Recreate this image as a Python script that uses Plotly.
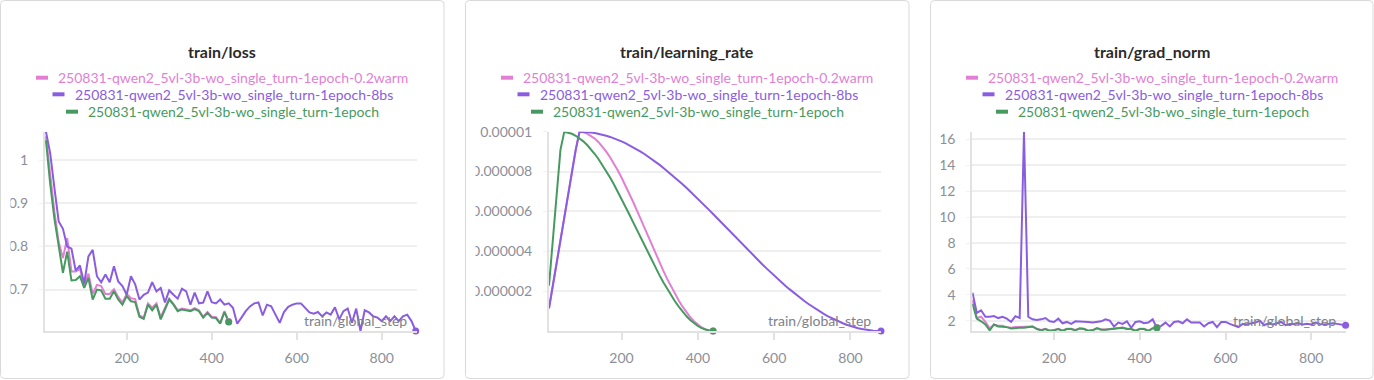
import plotly.graph_objects as go

W, H = 1374, 380

# ---------------- data ----------------
steps_short = list(range(10, 441, 10))   # global_step for 1epoch runs
steps_long = list(range(10, 881, 10))    # global_step for 8bs run

run_names = [
    "250831-qwen2_5vl-3b-wo_single_turn-1epoch-0.2warm",
    "250831-qwen2_5vl-3b-wo_single_turn-1epoch-8bs",
    "250831-qwen2_5vl-3b-wo_single_turn-1epoch",
]
run_colors = ["#E27FD4", "#8A5DE0", "#479A5F"]

panel_titles = ["train/loss", "train/learning_rate", "train/grad_norm"]

loss_warm = [1.055, 0.960, 0.880, 0.810, 0.773, 0.819, 0.742, 0.742, 0.748, 0.712,
             0.737, 0.690, 0.711, 0.708, 0.690, 0.690, 0.701, 0.683, 0.670, 0.690,
             0.680, 0.678, 0.640, 0.635, 0.668, 0.658, 0.668, 0.636, 0.656, 0.679,
             0.667, 0.652, 0.656, 0.654, 0.652, 0.657, 0.652, 0.637, 0.648, 0.637,
             0.636, 0.623, 0.650, 0.626]
loss_8bs = [1.066, 1.016, 0.935, 0.858, 0.841, 0.800, 0.795, 0.744, 0.756, 0.714,
            0.777, 0.792, 0.731, 0.717, 0.735, 0.717, 0.754, 0.719, 0.708, 0.688,
            0.731, 0.712, 0.677, 0.688, 0.693, 0.717, 0.696, 0.704, 0.670, 0.698,
            0.688, 0.679, 0.702, 0.696, 0.665, 0.693, 0.668, 0.670, 0.696, 0.671,
            0.668, 0.677, 0.665, 0.668, 0.658, 0.621, 0.635, 0.650, 0.661, 0.668,
            0.670, 0.640, 0.665, 0.661, 0.642, 0.623, 0.648, 0.660, 0.665, 0.668,
            0.668, 0.658, 0.647, 0.644, 0.648, 0.638, 0.647, 0.642, 0.659, 0.631,
            0.650, 0.656, 0.623, 0.656, 0.604, 0.652, 0.647, 0.638, 0.635, 0.627,
            0.638, 0.627, 0.638, 0.627, 0.638, 0.642, 0.627, 0.604]
loss_1epoch = [1.046, 0.945, 0.864, 0.799, 0.739, 0.788, 0.721, 0.722, 0.731, 0.704,
               0.727, 0.677, 0.700, 0.698, 0.679, 0.679, 0.696, 0.677, 0.665, 0.685,
               0.673, 0.671, 0.637, 0.632, 0.665, 0.652, 0.665, 0.631, 0.652, 0.677,
               0.665, 0.650, 0.654, 0.652, 0.650, 0.655, 0.650, 0.635, 0.646, 0.635,
               0.634, 0.621, 0.648, 0.625]

# learning rate in units of 1e-6
lr_warm = [1.136, 2.273, 3.409, 4.545, 5.682, 6.818, 7.955, 9.091, 9.999, 9.971,
           9.904, 9.797, 9.653, 9.471, 9.253, 9.002, 8.719, 8.407, 8.067, 7.703,
           7.317, 6.913, 6.495, 6.068, 5.623, 5.174, 4.732, 4.289, 3.848, 3.420,
           3.003, 2.604, 2.222, 1.862, 1.528, 1.221, 0.944, 0.700, 0.490, 0.315,
           0.178, 0.079, 0.020, 0.0]
lr_8bs = [1.136, 2.273, 3.409, 4.545, 5.682, 6.818, 7.955, 9.091, 10.0, 9.994,
          9.981, 9.960, 9.931, 9.894, 9.850, 9.797, 9.738, 9.671, 9.596, 9.515,
          9.426, 9.330, 9.228, 9.118, 9.003, 8.881, 8.753, 8.619, 8.479, 8.334,
          8.183, 8.028, 7.868, 7.704, 7.535, 7.363, 7.186, 7.006, 6.823, 6.638,
          6.449, 6.259, 6.066, 5.871, 5.672, 5.478, 5.280, 5.082, 4.883, 4.683,
          4.486, 4.289, 4.092, 3.896, 3.706, 3.515, 3.327, 3.142, 2.958, 2.779,
          2.604, 2.432, 2.263, 2.100, 1.940, 1.786, 1.637, 1.493, 1.354, 1.221,
          1.094, 0.974, 0.859, 0.751, 0.650, 0.556, 0.468, 0.388, 0.315, 0.250,
          0.191, 0.141, 0.098, 0.063, 0.035, 0.016, 0.004, 0.0]
lr_1epoch = [2.273, 4.545, 6.818, 9.091, 9.994, 9.960, 9.894, 9.797, 9.671, 9.515,
             9.330, 9.118, 8.881, 8.619, 8.334, 8.028, 7.704, 7.363, 7.006, 6.638,
             6.259, 5.871, 5.478, 5.082, 4.683, 4.289, 3.896, 3.515, 3.142, 2.779,
             2.432, 2.100, 1.786, 1.493, 1.221, 0.974, 0.751, 0.556, 0.388, 0.250,
             0.141, 0.063, 0.016, 0.0]

gn_warm = [3.6, 2.2, 2.3, 1.9, 1.4, 1.7, 1.6, 1.6, 1.5, 1.45,
           1.5, 1.5, 1.5, 1.52, 1.55, 1.38, 1.28, 1.37, 1.23, 1.28,
           1.37, 1.23, 1.38, 1.37, 1.28, 1.42, 1.38, 1.23, 1.27, 1.42,
           1.33, 1.32, 1.37, 1.38, 1.42, 1.47, 1.37, 1.38, 1.23, 1.37,
           1.38, 1.23, 1.42, 1.47]
gn_8bs = [4.15, 2.6, 2.8, 2.3, 2.3, 2.35, 2.2, 2.3, 2.15, 1.9,
          2.35, 2.2, 16.6, 2.3, 2.1, 2.05, 2.1, 2.2, 1.95, 1.9,
          2.15, 1.8, 1.9, 1.75, 1.95, 1.95, 1.95, 1.9, 1.85, 1.9,
          1.95, 2.1, 2.0, 1.55, 1.85, 1.75, 1.95, 1.45, 1.9, 1.95,
          1.8, 1.85, 2.1, 1.45, 1.6, 1.85, 1.55, 1.9, 1.95, 1.8,
          2.1, 1.85, 1.85, 1.85, 1.55, 1.8, 1.9, 1.5, 1.9, 1.9,
          1.75, 1.65, 1.5, 1.75, 1.7, 1.8, 1.85, 2.0, 1.65, 1.8,
          1.7, 1.8, 1.9, 1.65, 1.75, 1.75, 1.8, 1.7, 1.75, 1.7,
          1.85, 1.75, 1.7, 1.75, 1.8, 1.75, 1.7, 1.65]
gn_1epoch = [3.3, 2.15, 1.95, 1.7, 1.25, 1.7, 1.55, 1.55, 1.5, 1.4,
             1.45, 1.45, 1.45, 1.5, 1.55, 1.35, 1.25, 1.35, 1.2, 1.25,
             1.35, 1.2, 1.35, 1.35, 1.25, 1.4, 1.35, 1.2, 1.25, 1.4,
             1.3, 1.3, 1.35, 1.35, 1.4, 1.45, 1.35, 1.35, 1.2, 1.35,
             1.35, 1.2, 1.4, 1.45]

loss_ticks = [0.7, 0.8, 0.9, 1.0]
loss_ticktext = ["0.7", "0.8", "0.9", "1"]
lr_ticks = [2, 4, 6, 8, 10]
lr_ticktext = ["0.000002", "0.000004", "0.000006", "0.000008", "0.00001"]
gn_ticks = [2, 4, 6, 8, 10, 12, 14, 16]
x_ticks = [200, 400, 600, 800]
x_label = "train/global_step"

# ---------------- figure ----------------
FONT = "Lato"
TICK_COLOR = "#8b8f99"
GRID = "#efefef"
AXLINE = "#e2e2e2"

panels = [
    dict(series=[loss_warm, loss_8bs, loss_1epoch], yticks=loss_ticks, ytext=loss_ticktext,
         card=(0.5, 444), plot=(45, 417), xr=(7.8, 883), scale=1.0),
    dict(series=[lr_warm, lr_8bs, lr_1epoch], yticks=lr_ticks, ytext=lr_ticktext,
         card=(465.5, 909), plot=(549, 881), xr=(10, 880), scale=1e-6),
    dict(series=[gn_warm, gn_8bs, gn_1epoch], yticks=gn_ticks, ytext=[str(v) for v in gn_ticks],
         card=(930.5, 1373), plot=(972.3, 1346.3), xr=(9.5, 881.6), scale=1.0),
]
xs_for = [steps_short, steps_long, steps_short]

PLOT_TOP, PLOT_BOT = 131.7, 331.0

fig = go.Figure()
shapes = []
annotations = []

def px(x):
    return x / W

def py(y):
    return (H - y) / H

for i, p in enumerate(panels):
    n = "" if i == 0 else str(i + 1)
    xa, ya = "x" + n, "y" + n
    sc = p["scale"]
    allv = [v * sc for s in p["series"] for v in s]
    for k, s in enumerate(p["series"]):
        xs = xs_for[k]
        ys = [v * sc for v in s]
        fig.add_trace(go.Scatter(x=xs, y=ys, mode="lines", xaxis=xa, yaxis=ya,
                                 line=dict(color=run_colors[k], width=2),
                                 showlegend=False, hoverinfo="skip", cliponaxis=False))
    for k, s in enumerate(p["series"]):
        xs = xs_for[k]
        fig.add_trace(go.Scatter(x=[xs[-1]], y=[s[-1] * sc], mode="markers", xaxis=xa, yaxis=ya,
                                 marker=dict(color=run_colors[k], size=7),
                                 showlegend=False, hoverinfo="skip", cliponaxis=False))
    x0, x1 = p["plot"]
    fig.update_layout(**{
        "xaxis" + n: dict(domain=[px(x0), px(x1)], range=list(p["xr"]), anchor=ya,
                          tickvals=x_ticks, showgrid=False, zeroline=False, automargin=False,
                          showline=True, linecolor=AXLINE, linewidth=2,
                          ticks="outside", ticklen=7, tickwidth=2, tickcolor=AXLINE,
                          tickfont=dict(family=FONT, size=14, color=TICK_COLOR),
                          ticklabelstandoff=6),
        "yaxis" + n: dict(domain=[py(PLOT_BOT), py(PLOT_TOP)], range=[min(allv), max(allv)],
                          anchor=xa, tickvals=[v * sc for v in p["yticks"]], ticktext=p["ytext"],
                          showgrid=True, gridcolor=GRID, gridwidth=2, zeroline=False,
                          automargin=False,
                          showline=True, linecolor=AXLINE, linewidth=2,
                          ticks="outside", ticklen=4, tickwidth=1, tickcolor="#f2f2f2",
                          tickfont=dict(family=FONT, size=14, color=TICK_COLOR),
                          ticklabelstandoff=8),
    })
    # card
    c0, c1 = p["card"]
    r = 4
    ct, cb = 0.5, 378.5
    path = (f"M {px(c0 + r)} {py(ct)} L {px(c1 - r)} {py(ct)} "
            f"Q {px(c1)} {py(ct)} {px(c1)} {py(ct + r)} L {px(c1)} {py(cb - r)} "
            f"Q {px(c1)} {py(cb)} {px(c1 - r)} {py(cb)} L {px(c0 + r)} {py(cb)} "
            f"Q {px(c0)} {py(cb)} {px(c0)} {py(cb - r)} L {px(c0)} {py(ct + r)} "
            f"Q {px(c0)} {py(ct)} {px(c0 + r)} {py(ct)} Z")
    shapes.append(dict(type="path", xref="paper", yref="paper", path=path,
                       line=dict(color="#d9d9d9", width=1), fillcolor="rgba(0,0,0,0)",
                       layer="below"))
    # clip strip for y tick labels near card edge
    shapes.append(dict(type="rect", xref="paper", yref="paper",
                       x0=px(c0 + 1), x1=px(c0 + 10), y0=py(cb - 2), y1=py(ct + 2),
                       line=dict(width=0), fillcolor="white", layer="above"))
    cx = (c0 + c1) / 2
    annotations.append(dict(text=f"<b>{panel_titles[i]}</b>", xref="paper", yref="paper",
                            x=px(cx), y=py(52), xanchor="center", yanchor="middle",
                            showarrow=False, font=dict(family=FONT, size=16, color="#2b2b2b")))
    # legend rows
    marker_x = [36, 52.5, 66]
    text_x = [56, 72.5, 86]
    row_y = [77.7, 94.3, 111.7]
    for k in range(3):
        off = c0 - 0.5
        shapes.append(dict(type="line", xref="paper", yref="paper",
                           x0=px(off + marker_x[k]), x1=px(off + marker_x[k] + 12),
                           y0=py(row_y[k]), y1=py(row_y[k]),
                           line=dict(color=run_colors[k], width=4)))
        annotations.append(dict(text=run_names[k], xref="paper", yref="paper",
                                x=px(off + text_x[k]), y=py(row_y[k]), xanchor="left",
                                yanchor="middle", showarrow=False,
                                font=dict(family=FONT, size=14, color=run_colors[k])))
    annotations.append(dict(text=x_label, xref=xa + " domain", yref=ya + " domain",
                            x=1, y=0, xshift=-8, yshift=11, xanchor="right", yanchor="middle",
                            showarrow=False, font=dict(family=FONT, size=14, color="#7d818a")))

fig.update_layout(width=W, height=H, margin=dict(l=0, r=0, t=0, b=0, pad=0, autoexpand=False),
                  paper_bgcolor="white", plot_bgcolor="white",
                  shapes=shapes, annotations=annotations)

fig.write_html("out.html", config={"displayModeBar": False},
               post_script="document.body.style.margin='0';")
